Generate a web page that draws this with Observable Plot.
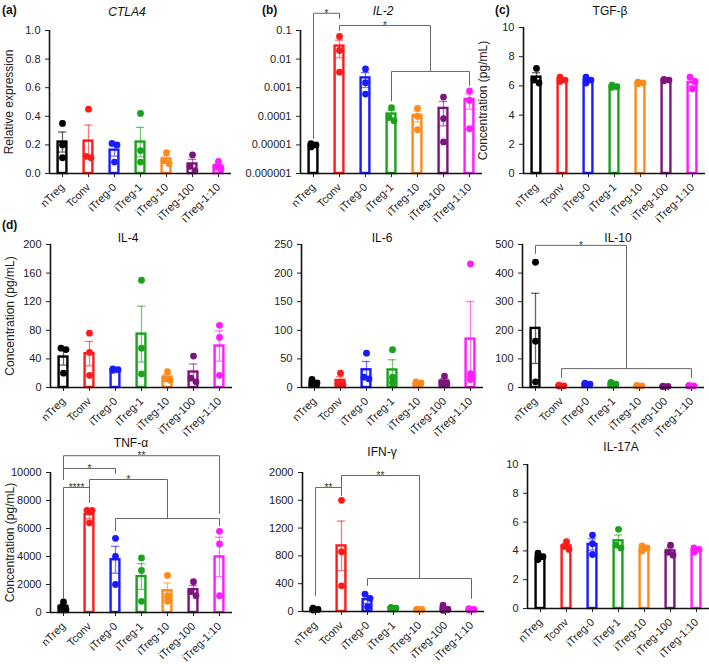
<!DOCTYPE html>
<html>
<head>
<meta charset="utf-8">
<script src="https://cdn.jsdelivr.net/npm/d3@7"></script>
<script src="https://cdn.jsdelivr.net/npm/@observablehq/plot@0.6"></script>
<style>
  html, body { margin: 0; padding: 0; background: #fff; }
  #fig { position: relative; width: 709px; height: 664px; background: #fff; font-family: Arial, "Liberation Sans", Helvetica, sans-serif; color: #222; overflow: hidden; }
  #fig svg { position: absolute; overflow: visible; }
  .ttl { position: absolute; transform: translate(-50%, -50%); font-size: 12px; line-height: 13px; white-space: nowrap; color: #111; }
  .lt { position: absolute; transform: translate(0, -50%); font-size: 12px; font-weight: bold; color: #111; }
</style>
</head>
<body>
<div id="fig"></div>
<script>
// ---------- data ----------
const categories = ["nTreg", "Tconv", "iTreg-0", "iTreg-1", "iTreg-10", "iTreg-100", "iTreg-1:10"];
const colors = ["#000000", "#ff1a1a", "#1a1aff", "#1aa31a", "#ff8a1a", "#7d137d", "#ff1aff"];

const ctla4 = [[0.35, 0.20, 0.11], [0.45, 0.12, 0.11], [0.21, 0.20, 0.08], [0.42, 0.16, 0.08], [0.145, 0.09, 0.07], [0.13, 0.05, 0.02], [0.085, 0.045, 0.03]];
const il2 = [[1.1e-5, 1.0e-5, 0.85e-5], [0.062, 0.02, 0.0035], [0.0045, 0.0015, 0.0006], [2e-4, 9e-5, 7e-5], [1.9e-4, 1e-4, 3.4e-5], [4.7e-4, 8.3e-5, 1.27e-5], [7.7e-4, 3.6e-4, 3.7e-5]];
const tgfb = [[7.2, 6.4, 6.2], [6.6, 6.4, 6.3], [6.6, 6.4, 6.2], [6.05, 5.95, 5.9], [6.25, 6.2, 6.15], [6.45, 6.4, 6.35], [6.6, 6.3, 5.8]];
const il4 = [[55, 53, 20], [76, 49, 17], [26, 25, 24], [150, 55, 19], [22, 12, 10], [44, 13, 8], [87, 70, 17]];
const il6 = [[14, 8, 6], [25, 7, 5], [60, 18, 15], [66, 18, 8], [10, 8, 6], [20, 8, 6], [216, 24, 14]];
const il10 = [[438, 162, 20], [8, 6, 5], [15, 12, 10], [18, 12, 8], [7, 6, 5], [5, 4, 3], [7, 6, 5]];
const tnf = [[750, 350, 200], [7300, 7300, 6400], [5300, 4000, 2000], [3900, 3000, 800], [2650, 1200, 800], [2200, 1500, 1200], [5800, 4900, 1200]];
const ifn = [[50, 30, 20], [1600, 860, 370], [250, 190, 70], [60, 50, 40], [35, 30, 25], [90, 30, 15], [40, 30, 20]];
const il17 = [[3.85, 3.6, 3.4], [4.65, 4.3, 4.1], [5.1, 4.5, 3.75], [5.5, 4.4, 4.2], [4.35, 4.2, 4.0], [4.4, 3.9, 3.7], [4.2, 4.1, 3.9]];

const ctla4Ticks = [0, 0.2, 0.4, 0.6, 0.8, 1.0];
const il2Ticks = [1e-6, 1e-5, 1e-4, 1e-3, 1e-2, 1e-1];
const il2TickLabels = ["0.000001", "0.00001", "0.0001", "0.001", "0.01", "0.1"];
const tgfbTicks = [0, 2, 4, 6, 8, 10];
const il4Ticks = [0, 40, 80, 120, 160, 200];
const il6Ticks = [0, 50, 100, 150, 200, 250];
const il10Ticks = [0, 100, 200, 300, 400, 500];
const tnfTicks = [0, 2000, 4000, 6000, 8000, 10000];
const ifnTicks = [0, 400, 800, 1200, 1600, 2000];
const il17Ticks = [0, 2, 4, 6, 8, 10];

// significance brackets: x1/x2 = category index (x.5 = middle of a group), y = bar level, e1/e2 = leg ends
const il2Brackets = [
  {x1: 0, x2: 1, y: 0.40, e1: 1.7e-5, e2: 0.26, label: "*"},
  {x1: 1, x2: 4.5, y: 0.15, e1: 0.1, e2: 0.0037, label: "*"},
  {x1: 3, x2: 6, y: 0.0037, e1: 3.5e-4, e2: 1.2e-3, label: ""}
];
const il10Brackets = [
  {x1: 0, x2: 3.5, y: 497, e1: 469, e2: 66, label: "*"},
  {x1: 1, x2: 6, y: 66, e1: 35, e2: 35, label: ""}
];
const tnfBrackets = [
  {x1: 0, x2: 6, y: 11200, e1: 10300, e2: 7070, label: "**"},
  {x1: 0, x2: 2, y: 10290, e1: 9500, e2: 9930, label: "*"},
  {x1: 0, x2: 1, y: 8930, e1: 1000, e2: 7860, label: "****"},
  {x1: 1, x2: 4, y: 9500, e1: 8930, e2: 6710, label: "*"},
  {x1: 2, x2: 6, y: 6710, e1: 5860, e2: 6210, label: ""}
];
const ifnBrackets = [
  {x1: 0, x2: 1, y: 1785, e1: 230, e2: 1670, label: "**"},
  {x1: 1, x2: 4, y: 1957, e1: 1785, e2: 475, label: "**"},
  {x1: 2, x2: 6, y: 475, e1: 375, e2: 190, label: ""}
];

// ---------- panels ----------
const panels = [
  {values: ctla4, type: "linear", domain: [0, 1], ticks: ctla4Ticks, fmt: d3.format(".1f"), title: "CTLA4", italic: true, letter: "(a)", letterX: 2, ylabel: "Relative expression", brackets: [],
   left: 0, top: 0, h: 220, axisX: 49, yTop: 30, yBot: 173, titleX: 127, titleY: 12},
  {values: il2, type: "log", domain: [1e-6, 0.1], ticks: il2Ticks, fmt: v => il2TickLabels[il2Ticks.findIndex(t => Math.abs(Math.log10(t) - Math.log10(v)) < 1e-6)], title: "IL-2", italic: true, letter: "(b)", letterX: 262, ylabel: null, brackets: il2Brackets,
   left: 235, top: 0, h: 220, axisX: 300, yTop: 30, yBot: 173, titleX: 383, titleY: 11},
  {values: tgfb, type: "linear", domain: [0, 10], ticks: tgfbTicks, fmt: d3.format("d"), title: "TGF-β", italic: false, letter: "(c)", letterX: 495, ylabel: "Concentration (pg/mL)", brackets: [],
   left: 470, top: 0, h: 220, axisX: 523, yTop: 27, yBot: 173, titleX: 610, titleY: 11},
  {values: il4, type: "linear", domain: [0, 200], ticks: il4Ticks, fmt: d3.format("d"), title: "IL-4", italic: false, letter: "(d)", letterX: 2, ylabel: "Concentration (pg/mL)", brackets: [],
   left: 0, top: 220, h: 220, axisX: 50, yTop: 244, yBot: 387, titleX: 128, titleY: 238},
  {values: il6, type: "linear", domain: [0, 250], ticks: il6Ticks, fmt: d3.format("d"), title: "IL-6", italic: false, letter: null, ylabel: null, brackets: [],
   left: 235, top: 220, h: 220, axisX: 301, yTop: 244, yBot: 387, titleX: 382, titleY: 238},
  {values: il10, type: "linear", domain: [0, 500], ticks: il10Ticks, fmt: d3.format("d"), title: "IL-10", italic: false, letter: null, ylabel: null, brackets: il10Brackets,
   left: 470, top: 220, h: 220, axisX: 522, yTop: 244, yBot: 387, titleX: 618, titleY: 238},
  {values: tnf, type: "linear", domain: [0, 10000], ticks: tnfTicks, fmt: d3.format("d"), title: "TNF-α", italic: false, letter: null, ylabel: "Concentration (pg/mL)", brackets: tnfBrackets,
   left: 0, top: 440, h: 224, axisX: 50, yTop: 472, yBot: 612, titleX: 131, titleY: 443},
  {values: ifn, type: "linear", domain: [0, 2000], ticks: ifnTicks, fmt: d3.format("d"), title: "IFN-γ", italic: false, letter: null, ylabel: null, brackets: ifnBrackets,
   left: 235, top: 440, h: 224, axisX: 302, yTop: 472, yBot: 611, titleX: 382, titleY: 452},
  {values: il17, type: "linear", domain: [0, 10], ticks: il17Ticks, fmt: d3.format("d"), title: "IL-17A", italic: false, letter: null, ylabel: null, brackets: [],
   left: 470, top: 440, h: 224, axisX: 527, yTop: 464, yBot: 608, titleX: 621, titleY: 447}
];

const fig = document.getElementById("fig");
const STEP = 26; // px per category

function jitter(vals, fn) {
  const px = vals.map(fn);
  const order = d3.range(vals.length).sort((a, b) => px[a] - px[b]);
  const dx = vals.map(() => 0);
  for (let k = 1; k < order.length; k++) {
    const i = order[k], j = order[k - 1];
    if (Math.abs(px[i] - px[j]) < 5) {
      if (dx[j] === 0) { dx[j] = -2.5; dx[i] = 2.5; }
      else { dx[i] = -dx[j]; }
    }
  }
  return dx;
}

for (const p of panels) {
  const mL = p.axisX - p.left;
  const mR = 8;
  const W = mL + STEP * 7 + mR;
  const mT = p.yTop - p.top;
  const mB = p.h - (p.yBot - p.top);
  const base = p.domain[0];
  const yfn = (p.type === "log" ? d3.scaleLog() : d3.scaleLinear()).domain(p.domain).range([p.yBot - p.top, p.yTop - p.top]);

  const stats = p.values.map((v, i) => {
    const mean = d3.mean(v);
    const sem = d3.deviation(v) / Math.sqrt(v.length);
    return {i, mean, lo: Math.max(base * 1.0001, mean - sem), hi: mean + sem, color: colors[i]};
  });
  const pts = [];
  p.values.forEach((v, i) => {
    const dx = jitter(v, yfn);
    v.forEach((val, k) => pts.push({i, v: val, dx: dx[k], color: colors[i]}));
  });
  const caps = stats.flatMap(s => [{i: s.i, y: s.lo, color: s.color}, {i: s.i, y: s.hi, color: s.color}]);
  const bpts = p.brackets.flatMap((b, k) => [
    {k, x: b.x1, y: b.e1}, {k, x: b.x1, y: b.y}, {k, x: b.x2, y: b.y}, {k, x: b.x2, y: b.e2}
  ]);

  const marks = [
    Plot.rect(stats, {x1: d => d.i - 0.5, x2: d => d.i + 0.5, y1: () => base, y2: "mean", insetLeft: 8.6, insetRight: 8.6, fill: "white", stroke: "color", strokeWidth: 2.4}),
    Plot.ruleX(stats, {x: "i", y1: "lo", y2: "hi", stroke: "color", strokeWidth: 1.3, strokeOpacity: 0.6}),
    Plot.ruleY(caps, {y: "y", x1: d => d.i - 0.16, x2: d => d.i + 0.16, stroke: "color", strokeWidth: 1.3, strokeOpacity: 0.6}),
    Plot.dot(pts, {x: d => d.i + d.dx / STEP, y: "v", r: 3.4, fill: "color"}),
    Plot.ruleY([base], {x1: -0.5, x2: 6.5, stroke: "#111", strokeWidth: 1.6}),
    Plot.ruleX([-0.5], {y1: base, y2: p.domain[1], stroke: "#111", strokeWidth: 1.6}),
    Plot.line(bpts, {x: "x", y: "y", z: "k", stroke: "#666", strokeWidth: 1}),
    Plot.text(p.brackets.filter(b => b.label), {x: d => (d.x1 + d.x2) / 2, y: "y", text: "label", lineAnchor: "bottom", dy: 3.5, fontSize: 10, fill: "#333"})
  ];
  if (p.ylabel) {
    marks.push(Plot.text([p.ylabel], {frameAnchor: "left", text: d => d, rotate: -90, dx: -40, textAnchor: "middle", fontSize: 12, fill: "#222"}));
  }

  const chart = Plot.plot({
    width: W,
    height: p.h,
    marginLeft: mL,
    marginRight: mR,
    marginTop: mT,
    marginBottom: mB,
    style: {background: "transparent", overflow: "visible", fontSize: "11px", fontFamily: "Arial, 'Liberation Sans', Helvetica, sans-serif", color: "#222"},
    color: {type: "identity"},
    x: {type: "linear", domain: [-0.5, 6.5], ticks: d3.range(7), tickFormat: i => categories[i], tickRotate: -45, tickSize: 4, label: null},
    y: {type: p.type, domain: p.domain, ticks: p.ticks, tickFormat: p.fmt, tickSize: 4, label: null},
    marks
  });
  chart.style.left = p.left + "px";
  chart.style.top = p.top + "px";
  fig.appendChild(chart);

  const t = document.createElement("div");
  t.className = "ttl";
  t.textContent = p.title;
  if (p.italic) t.style.fontStyle = "italic";
  t.style.left = p.titleX + "px";
  t.style.top = p.titleY + "px";
  fig.appendChild(t);

  if (p.letter) {
    const l = document.createElement("div");
    l.className = "lt";
    l.textContent = p.letter;
    l.style.left = p.letterX + "px";
    l.style.top = (p.top + (p.top === 0 ? 10 : 5)) + "px";
    fig.appendChild(l);
  }
}
</script>
</body>
</html>
